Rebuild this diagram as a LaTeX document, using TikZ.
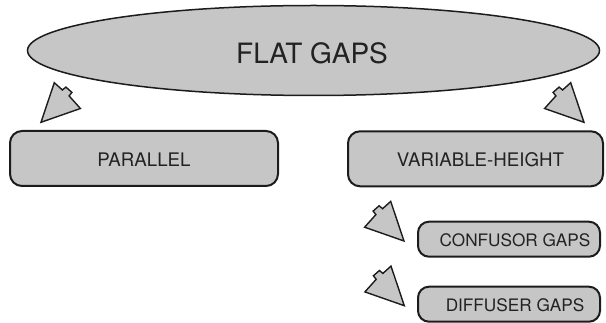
\documentclass[tikz,border=0pt]{standalone}
\usepackage{fontspec}
\setmainfont{TeX Gyre Heros}
\usetikzlibrary{shapes.geometric}

\definecolor{shapefill}{HTML}{C6C6C6}
\definecolor{outline}{HTML}{1C1C1C}
\definecolor{labelink}{HTML}{222222}

\tikzset{
  topoval/.style={ellipse, draw=outline, fill=shapefill, line width=1.5pt,
    minimum width=572pt, minimum height=90pt, inner sep=0pt},
  levelbox/.style={rectangle, rounded corners=12pt, draw=outline, fill=shapefill,
    line width=2pt, inner sep=0pt},
  bigbox/.style={levelbox, minimum height=55pt},
  smallbox/.style={levelbox, rounded corners=11pt, minimum height=35pt},
  boxtext/.style={anchor=base, text=labelink, inner sep=0pt},
  arrowshape/.style={draw=outline, fill=shapefill, line width=1.4pt, line join=miter},
  % block arrow with a small stepped tail; origin is the tip
  blockarrow/.pic={
    \draw[arrowshape] (0,0) -- (-13.3,-39.6) -- (-21.4,-32.3) -- (-24.9,-35.2)
      -- (-30.9,-29.9) -- (-28.1,-26.4) -- (-39.4,-13.8) -- cycle;
  }
}

\begin{document}
\begin{tikzpicture}[x=1pt, y=-1pt]
  \useasboundingbox (0,0) rectangle (606,323);

  % top level
  \node[topoval] (flat) at (313.5,50.5) {};
  \node[boxtext, font=\fontsize{28}{32}\selectfont] (flattext) at (312,63.3) {FLAT GAPS};

  % second level
  \node[bigbox, minimum width=268pt] (parallel) at (144,158.5) {};
  \node[boxtext, font=\fontsize{18.7}{22}\selectfont] (paralleltext) at (144,166.7) {PARALLEL};

  \node[bigbox, minimum width=255pt] (variable) at (475.5,158.8) {};
  \node[boxtext, font=\fontsize{18.7}{22}\selectfont] (variabletext) at (480.5,166.7) {VARIABLE-HEIGHT};

  % third level
  \node[smallbox, minimum width=182pt] (confusor) at (509,239.2) {};
  \node[boxtext, font=\fontsize{17.2}{20}\selectfont] (confusortext) at (515,246.7) {CONFUSOR GAPS};

  \node[smallbox, minimum width=182pt] (diffuser) at (509,304.2) {};
  \node[boxtext, font=\fontsize{17.2}{20}\selectfont] (diffusertext) at (515,311.7) {DIFFUSER GAPS};

  % arrow tips
  \coordinate (tipparallel) at (41,122.3);
  \coordinate (tipvariable) at (584,122.3);
  \coordinate (tipconfusor) at (404,241);
  \coordinate (tipdiffuser) at (404.3,305.7);

  % block arrows
  \pic[xscale=-1] at (tipparallel) {blockarrow};
  \pic at (tipvariable) {blockarrow};
  \pic at (tipconfusor) {blockarrow};
  \pic at (tipdiffuser) {blockarrow};
\end{tikzpicture}
\end{document}
